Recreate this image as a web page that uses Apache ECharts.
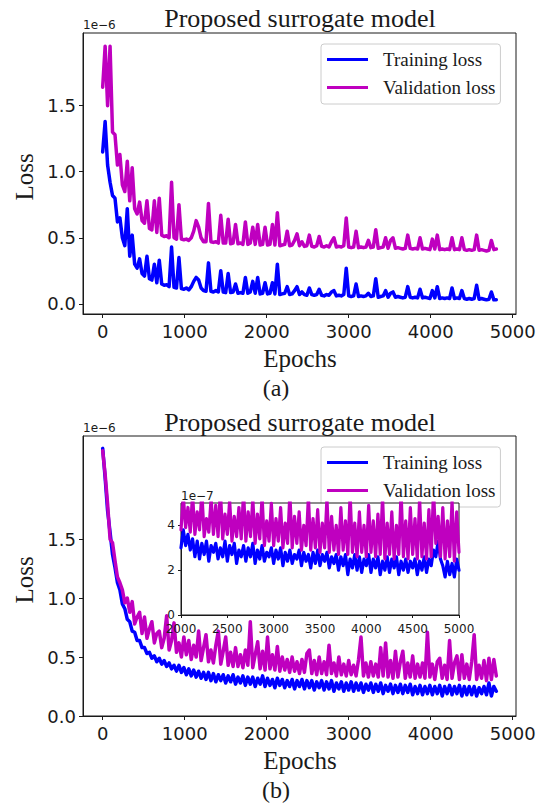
<!DOCTYPE html>
<html><head><meta charset="utf-8">
<script src="https://cdn.jsdelivr.net/npm/echarts@6/dist/echarts.min.js"></script>
<style>html,body{margin:0;padding:0;background:#fff}#c{width:543px;height:805px}</style>
</head><body><div id="c"></div>
<script>
// ---------- DATA (loss values in units of 1e-6 for main panels, 1e-7 for inset) ----------
const EPOCH_STEP_MAIN = 30;      // epochs between stored samples (main panels)
const INSET_EPOCH_START = 2000;  // inset samples start
const EPOCH_STEP_INSET = 25;     // epochs between inset samples

const xTickLabels = [0, 1000, 2000, 3000, 4000, 5000];
const yTickLabels = [0, 0.5, 1.0, 1.5];
const insetXTicks = [2000, 2500, 3000, 3500, 4000, 4500, 5000];
const insetYTicks = [0, 2, 4];

// (a) training loss
const trainA = [
1.15,1.38,1.05,0.92,0.82,0.80,0.62,0.65,0.50,0.44,
0.72,0.36,0.52,0.30,0.27,0.34,0.23,0.21,0.36,0.19,
0.18,0.30,0.16,0.33,0.15,0.14,0.145,0.13,0.43,0.125,
0.12,0.35,0.115,0.11,0.12,0.105,0.13,0.17,0.20,0.18,
0.12,0.10,0.095,0.31,0.095,0.09,0.10,0.09,0.25,0.09,
0.085,0.23,0.085,0.09,0.15,0.08,0.085,0.08,0.20,0.08,
0.09,0.17,0.08,0.20,0.075,0.08,0.16,0.075,0.08,0.16,
0.075,0.30,0.07,0.075,0.08,0.13,0.07,0.075,0.10,0.13,
0.07,0.09,0.07,0.065,0.12,0.07,0.065,0.07,0.11,0.065,
0.06,0.07,0.065,0.09,0.10,0.06,0.065,0.06,0.07,0.27,
0.06,0.055,0.06,0.15,0.055,0.06,0.055,0.06,0.08,0.055,
0.06,0.19,0.05,0.055,0.06,0.10,0.05,0.08,0.09,0.05,
0.055,0.05,0.045,0.05,0.13,0.05,0.045,0.05,0.045,0.11,
0.045,0.05,0.045,0.04,0.10,0.045,0.13,0.04,0.045,0.04,
0.045,0.04,0.12,0.04,0.045,0.04,0.10,0.04,0.035,0.04,
0.035,0.04,0.14,0.035,0.04,0.035,0.03,0.035,0.09,0.03,
0.03];
// (a) validation loss
const valA = [
1.64,1.95,1.50,1.95,1.30,1.28,1.05,1.13,0.90,0.85,
1.08,0.78,1.03,0.72,0.68,0.77,0.63,0.61,0.78,0.57,
0.56,0.78,0.54,0.80,0.52,0.51,0.515,0.50,0.92,0.50,
0.49,0.75,0.49,0.485,0.49,0.48,0.50,0.55,0.63,0.58,
0.50,0.47,0.47,0.76,0.47,0.465,0.47,0.46,0.67,0.46,
0.46,0.64,0.455,0.46,0.60,0.455,0.46,0.45,0.62,0.45,
0.46,0.58,0.45,0.60,0.445,0.45,0.58,0.445,0.45,0.60,
0.445,0.69,0.44,0.445,0.45,0.55,0.44,0.445,0.48,0.53,
0.44,0.47,0.435,0.44,0.52,0.435,0.43,0.44,0.51,0.435,
0.43,0.44,0.43,0.47,0.50,0.43,0.435,0.43,0.44,0.65,
0.43,0.425,0.43,0.55,0.425,0.43,0.425,0.43,0.48,0.425,
0.43,0.56,0.42,0.425,0.43,0.50,0.42,0.48,0.50,0.42,
0.425,0.42,0.415,0.42,0.52,0.42,0.415,0.42,0.415,0.50,
0.415,0.42,0.415,0.41,0.49,0.415,0.52,0.41,0.415,0.41,
0.415,0.41,0.50,0.41,0.415,0.41,0.50,0.41,0.405,0.41,
0.405,0.41,0.52,0.405,0.41,0.405,0.40,0.405,0.48,0.41,
0.415];
// (b) training loss
const trainB = [
2.27,2.02,1.74,1.56,1.37,1.26,1.13,1.07,0.95,0.91,
0.82,0.80,0.72,0.71,0.64,0.64,0.58,0.58,0.53,0.54,
0.49,0.51,0.46,0.49,0.44,0.47,0.42,0.45,0.40,0.43,
0.38,0.43,0.37,0.41,0.35,0.40,0.34,0.39,0.33,0.38,
0.32,0.37,0.31,0.37,0.30,0.36,0.29,0.35,0.30,0.35,
0.28,0.34,0.29,0.35,0.27,0.33,0.28,0.34,0.26,0.33,
0.27,0.33,0.25,0.32,0.27,0.34,0.25,0.32,0.26,0.31,
0.24,0.32,0.26,0.31,0.24,0.30,0.25,0.31,0.23,0.30,
0.25,0.31,0.23,0.30,0.24,0.30,0.22,0.29,0.24,0.30,
0.22,0.29,0.23,0.30,0.21,0.28,0.23,0.29,0.21,0.28,
0.22,0.29,0.21,0.28,0.22,0.28,0.20,0.27,0.22,0.28,
0.20,0.27,0.21,0.28,0.19,0.26,0.21,0.27,0.19,0.26,
0.20,0.27,0.19,0.26,0.20,0.27,0.18,0.25,0.19,0.26,
0.18,0.25,0.19,0.26,0.18,0.25,0.19,0.26,0.17,0.25,
0.19,0.26,0.18,0.25,0.19,0.26,0.17,0.25,0.18,0.25,
0.18,0.25,0.17,0.24,0.19,0.25,0.18,0.28,0.17,0.25,
0.21];
// (b) validation loss
const valB = [
2.25,2.05,1.80,1.50,1.47,1.32,1.18,1.13,1.07,0.96,
1.00,0.88,0.97,0.78,0.84,0.88,0.70,0.84,0.66,0.74,
0.80,0.62,0.70,0.72,0.58,0.66,0.85,0.56,0.64,0.79,
0.54,0.62,0.50,0.67,0.52,0.64,0.48,0.60,0.50,0.72,
0.47,0.58,0.69,0.46,0.56,0.45,0.60,0.72,0.44,0.55,
0.67,0.43,0.54,0.42,0.58,0.42,0.52,0.41,0.56,0.43,
0.80,0.41,0.52,0.63,0.40,0.55,0.39,0.67,0.40,0.52,
0.39,0.59,0.38,0.50,0.39,0.48,0.37,0.50,0.38,0.46,
0.36,0.48,0.37,0.53,0.56,0.36,0.47,0.35,0.50,0.36,
0.46,0.35,0.60,0.36,0.45,0.34,0.50,0.35,0.44,0.34,
0.47,0.35,0.43,0.34,0.48,0.67,0.34,0.45,0.33,0.46,
0.34,0.44,0.33,0.58,0.34,0.62,0.33,0.47,0.32,0.55,
0.33,0.46,0.55,0.32,0.45,0.33,0.51,0.32,0.44,0.33,
0.45,0.32,0.71,0.33,0.44,0.31,0.46,0.49,0.32,0.43,
0.31,0.64,0.32,0.45,0.51,0.31,0.52,0.32,0.44,0.31,
0.46,0.69,0.31,0.43,0.32,0.47,0.30,0.49,0.31,0.48,
0.34];
// (b) inset, units of 1e-7
const insetTrain = [
3.0,3.8,3.1,3.6,2.9,3.4,2.6,3.3,2.5,3.2,
2.7,3.3,2.4,3.1,2.8,3.2,2.5,3.0,2.6,3.3,
2.4,3.1,2.7,3.2,2.3,2.9,2.6,3.1,2.4,3.0,
2.6,3.2,2.3,2.9,2.5,3.1,2.4,2.8,2.6,3.0,
2.3,2.9,2.5,3.0,2.2,2.8,2.4,2.9,2.3,2.7,
2.5,2.9,2.2,2.8,2.4,2.7,2.1,2.8,2.3,2.9,
2.2,2.7,2.4,2.8,2.1,2.6,2.3,2.7,2.0,2.6,
2.2,2.7,1.8,2.5,2.1,2.7,2.0,2.6,1.9,2.5,
2.2,2.7,1.9,2.5,2.1,2.6,1.8,2.4,2.0,2.6,
1.9,2.5,2.1,2.6,1.8,2.4,2.0,2.5,1.9,2.4,
2.1,2.5,1.8,2.4,2.0,2.6,1.9,2.5,2.2,2.9,
2.6,3.3,2.5,2.2,1.7,2.4,1.8,2.3,1.7,2.5,
2.0];
const insetVal = [
3.8,5.3,3.9,4.8,3.7,5.4,3.6,4.6,3.8,5.5,
3.5,4.3,3.7,5.2,3.6,4.9,3.5,5.6,3.4,4.5,
3.6,5.1,3.3,4.4,3.5,4.8,3.4,5.5,3.3,4.6,
3.5,5.2,3.2,4.5,3.4,5.3,3.1,4.2,3.3,5.0,
3.1,4.3,3.3,4.8,3.0,4.1,3.2,5.4,3.0,4.4,
3.2,4.6,2.9,4.0,3.1,5.3,2.9,4.3,3.0,4.7,
2.8,4.1,3.0,5.2,2.8,4.4,2.9,4.0,2.7,4.8,
2.9,4.2,2.7,5.4,2.8,4.1,2.6,4.6,2.8,4.0,
2.6,4.9,2.8,4.2,2.6,4.5,2.7,5.3,2.5,4.1,
2.7,4.6,2.5,4.0,2.7,5.5,2.6,4.2,2.5,4.8,
2.7,4.3,2.5,5.2,2.6,4.1,2.5,4.7,2.6,5.6,
3.2,4.4,2.6,4.8,2.5,4.2,2.6,5.1,2.4,4.6,
2.8];

// ---------- CHART ----------
const BLUE = '#0000ff', MAG = '#bf00bf', INK = '#1a1a1a';
const pairsMain = arr => arr.map((v, i) => [i * EPOCH_STEP_MAIN, v]);
const pairsInset = arr => arr.map((v, i) => [INSET_EPOCH_START + i * EPOCH_STEP_INSET, v]);

const tickFont = {fontFamily: 'DejaVu Sans', fontSize: 18, color: INK};
function mainX(gi) {
  return {gridIndex: gi, type: 'value', min: -240, max: 5040,
    axisLine: {show: true, onZero: false, lineStyle: {color: INK, width: 1}},
    axisTick: {show: true, length: 4, customValues: xTickLabels, lineStyle: {color: INK}},
    axisLabel: Object.assign({customValues: xTickLabels, margin: 8, formatter: v => String(v)}, tickFont),
    splitLine: {show: false}};
}
function mainY(gi, min, max) {
  return {gridIndex: gi, type: 'value', min: min, max: max,
    axisLine: {show: true, onZero: false, lineStyle: {color: INK, width: 1}},
    axisTick: {show: true, length: 4, customValues: yTickLabels, lineStyle: {color: INK}},
    axisLabel: Object.assign({customValues: yTickLabels, margin: 7, formatter: v => Number(v).toFixed(1)}, tickFont),
    splitLine: {show: false}};
}
function legendAt(top) {
  return {left: 321, top: top, orient: 'vertical', selectedMode: false,
    icon: 'rect', itemWidth: 41, itemHeight: 3, itemGap: 9, padding: [6, 5, 7, 6],
    backgroundColor: 'rgba(255,255,255,0.85)', borderColor: '#cccccc', borderWidth: 1, borderRadius: 3,
    textStyle: {fontFamily: 'Liberation Serif', fontSize: 19, color: INK, padding: [0, 0, 0, 10]},
    data: ['Training loss', 'Validation loss']};
}
function txt(x, y, s, font, align, rot) {
  return {type: 'text', x: x, y: y, rotation: rot || 0, z: 20,
    style: {text: s, font: font, fill: INK, textAlign: align || 'center', textVerticalAlign: 'middle'}};
}
const serif = f => f + 'px "Liberation Serif"';
const sans = f => f + 'px "DejaVu Sans"';

const lineSeries = (name, color, xi, data, w, z) => ({
  name: name, type: 'line', xAxisIndex: xi, yAxisIndex: xi, data: data,
  symbol: 'none', showSymbol: false, sampling: null, z: z || 2,
  lineStyle: {color: color, width: w, join: 'round', cap: 'round'}, itemStyle: {color: color}, clip: true});

const option = {
  animation: false,
  backgroundColor: '#fff',
  grid: [
    {left: 83, top: 33, width: 433, height: 281, show: true, borderColor: INK, borderWidth: 1, backgroundColor: 'transparent'},
    {left: 83, top: 436, width: 433, height: 280, show: true, borderColor: INK, borderWidth: 1, backgroundColor: 'transparent'},
    {left: 181, top: 503, width: 278, height: 112, show: true, borderColor: INK, borderWidth: 1, backgroundColor: '#fff', z: 10}
  ],
  xAxis: [mainX(0), mainX(1),
    {gridIndex: 2, type: 'value', min: 2000, max: 5000, z: 11,
     axisLine: {show: true, onZero: false, lineStyle: {color: INK}},
     axisTick: {show: true, length: 3, customValues: insetXTicks, lineStyle: {color: INK}},
     axisLabel: {customValues: insetXTicks, formatter: v => String(v), fontFamily: 'DejaVu Sans', fontSize: 12, color: INK, margin: 8},
     splitLine: {show: false}}],
  yAxis: [mainY(0, -0.077, 2.05), mainY(1, 0, 2.375),
    {gridIndex: 2, type: 'value', min: 0, max: 5, z: 11,
     axisLine: {show: true, onZero: false, lineStyle: {color: INK}},
     axisTick: {show: true, length: 3, customValues: insetYTicks, lineStyle: {color: INK}},
     axisLabel: {customValues: insetYTicks, formatter: v => String(v), fontFamily: 'DejaVu Sans', fontSize: 12, color: INK, margin: 6},
     splitLine: {show: false}}],
  legend: [legendAt(44), legendAt(447)],
  series: [
    lineSeries('Training loss', BLUE, 0, pairsMain(trainA), 3.5),
    lineSeries('Validation loss', MAG, 0, pairsMain(valA), 3.5),
    lineSeries('Training loss', BLUE, 1, pairsMain(trainB), 3.5),
    lineSeries('Validation loss', MAG, 1, pairsMain(valB), 3.5),
    lineSeries('Training loss', BLUE, 2, pairsInset(insetTrain), 3.2, 12),
    lineSeries('Validation loss', MAG, 2, pairsInset(insetVal), 3.2, 12)
  ],
  graphic: [
    txt(300, 18, 'Proposed surrogate model', serif(26)),
    txt(83, 25, '1e\u22126', sans(12), 'left'),
    txt(24, 177, 'Loss', serif(25), 'center', Math.PI / 2),
    txt(300, 358, 'Epochs', serif(25)),
    txt(276, 388, '(a)', serif(24)),
    txt(300, 422, 'Proposed surrogate model', serif(26)),
    txt(83, 428, '1e\u22126', sans(12), 'left'),
    txt(24, 580, 'Loss', serif(25), 'center', Math.PI / 2),
    txt(300, 760, 'Epochs', serif(25)),
    txt(276, 790, '(b)', serif(24)),
    txt(181, 496, '1e\u22127', sans(12), 'left')
  ]
};
const chart = echarts.init(document.getElementById('c'), null, {renderer: 'svg'});
chart.setOption(option);
</script>
</body></html>
